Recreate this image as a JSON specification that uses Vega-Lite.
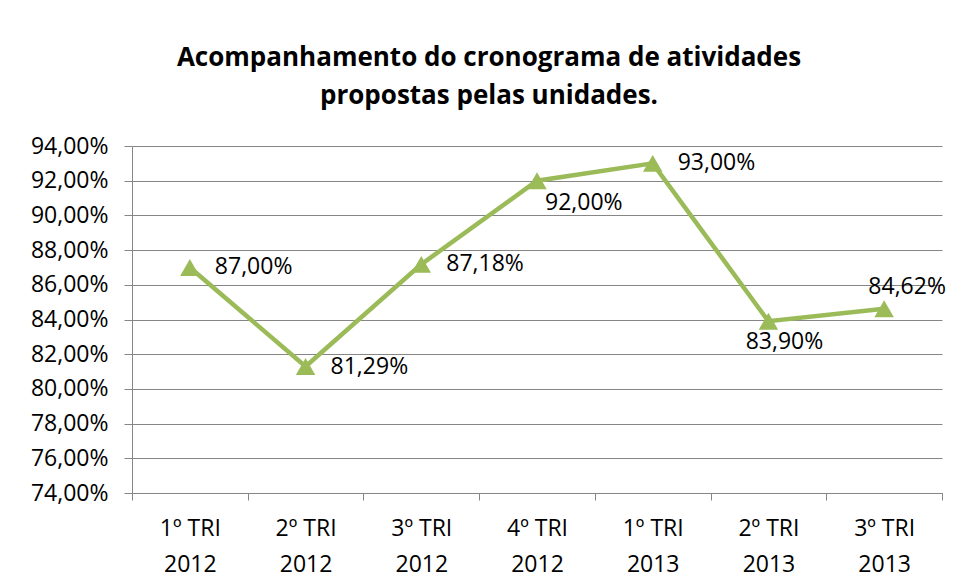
{
  "$schema": "https://vega.github.io/schema/vega-lite/v6.json",
  "autosize": "none",
  "width": 810,
  "height": 347,
  "padding": {"left": 132, "top": 146, "right": 16, "bottom": 90},
  "background": "white",
  "config": {
    "locale": {"number": {"decimal": ",", "thousands": ".", "grouping": [3], "currency": ["", " €"]}},
    "view": {"stroke": null},
    "font": "Open Sans"
  },
  "title": {
    "text": ["Acompanhamento do cronograma de atividades", "propostas pelas unidades."],
    "anchor": "middle",
    "dx": -48,
    "offset": 26,
    "fontSize": 26,
    "fontWeight": "bold",
    "font": "Open Sans",
    "lineHeight": 38,
    "color": "#000000"
  },
  "data": {
    "values": [
      {"periodo": "1º TRI 2012", "valor": 0.87},
      {"periodo": "2º TRI 2012", "valor": 0.8129},
      {"periodo": "3º TRI 2012", "valor": 0.8718},
      {"periodo": "4º TRI 2012", "valor": 0.92},
      {"periodo": "1º TRI 2013", "valor": 0.93},
      {"periodo": "2º TRI 2013", "valor": 0.839},
      {"periodo": "3º TRI 2013", "valor": 0.8462}
    ]
  },
  "encoding": {
    "x": {
      "field": "periodo",
      "type": "nominal",
      "sort": null,
      "scale": {"type": "band", "paddingInner": 0, "paddingOuter": 0},
      "axis": {
        "title": null,
        "labelAngle": 0,
        "labelExpr": "[slice(datum.label, 0, 6), slice(datum.label, 7)]",
        "labelFontSize": 23,
        "labelLineHeight": 36,
        "labelPadding": 17,
        "labelColor": "#000000",
        "tickBand": "extent",
        "tickSize": 7,
        "tickColor": "#868686",
        "domainColor": "#868686",
        "grid": false
      }
    },
    "y": {
      "field": "valor",
      "type": "quantitative",
      "scale": {"domain": [0.74, 0.94], "zero": false, "nice": false},
      "axis": {
        "title": null,
        "format": ".2%",
        "values": [0.74, 0.76, 0.78, 0.80, 0.82, 0.84, 0.86, 0.88, 0.90, 0.92, 0.94],
        "labelFontSize": 23,
        "labelColor": "#000000",
        "labelPadding": 16,
        "tickSize": 8,
        "tickColor": "#868686",
        "domainColor": "#868686",
        "gridColor": "#868686",
        "gridWidth": 1
      }
    }
  },
  "layer": [
    {"mark": {"type": "line", "color": "#9BBB59", "strokeWidth": 4.5}},
    {"mark": {"type": "point", "shape": "triangle-up", "filled": true, "color": "#9BBB59", "opacity": 1, "size": 380}},
    {
      "transform": [{"filter": "indexof(['1º TRI 2012','2º TRI 2012','3º TRI 2012','1º TRI 2013'], datum.periodo) >= 0"}],
      "mark": {"type": "text", "align": "left", "baseline": "middle", "dx": 25, "fontSize": 23, "color": "#000000"},
      "encoding": {"text": {"field": "valor", "type": "quantitative", "format": ".2%"}}
    },
    {
      "transform": [{"filter": "datum.periodo == '4º TRI 2012'"}],
      "mark": {"type": "text", "align": "left", "baseline": "middle", "dx": 8, "dy": 22, "fontSize": 23, "color": "#000000"},
      "encoding": {"text": {"field": "valor", "type": "quantitative", "format": ".2%"}}
    },
    {
      "transform": [{"filter": "datum.periodo == '2º TRI 2013'"}],
      "mark": {"type": "text", "align": "center", "baseline": "middle", "dx": 16, "dy": 21, "fontSize": 23, "color": "#000000"},
      "encoding": {"text": {"field": "valor", "type": "quantitative", "format": ".2%"}}
    },
    {
      "transform": [{"filter": "datum.periodo == '3º TRI 2013'"}],
      "mark": {"type": "text", "align": "center", "baseline": "middle", "dx": 23, "dy": -22, "fontSize": 23, "color": "#000000"},
      "encoding": {"text": {"field": "valor", "type": "quantitative", "format": ".2%"}}
    }
  ]
}
